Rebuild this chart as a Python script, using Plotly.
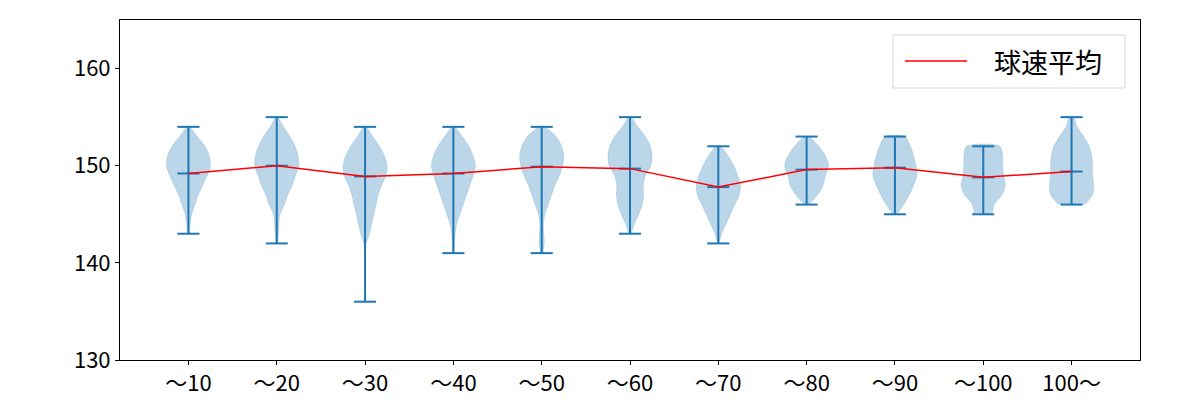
import plotly.graph_objects as go

categories = ["～10", "～20", "～30", "～40", "～50", "～60", "～70", "～80", "～90", "～100", "100～"]
mins = [143, 142, 136, 141, 141, 143, 142, 146, 145, 145, 146]
maxs = [154, 155, 154, 154, 154, 155, 152, 153, 153, 152, 155]
means = [149.2, 150.0, 148.9, 149.2, 149.9, 149.7, 147.8, 149.6, 149.8, 148.8, 149.4]
legend_label = "球速平均"

# relative density (0..1) from min to max, 1 km/h steps
dens_10 = [0.05, 0.08, 0.15, 0.3, 0.45, 0.65, 0.85, 1.0, 0.95, 0.75, 0.4, 0.05]
dens_20 = [0.03, 0.08, 0.1, 0.15, 0.35, 0.5, 0.7, 0.85, 1.0, 0.97, 0.83, 0.6, 0.3, 0.05]
dens_30 = [0.0, 0.0, 0.0, 0.0, 0.0, 0.01, 0.05, 0.2, 0.3, 0.4, 0.5, 0.6, 0.75, 0.95, 1.0, 0.88, 0.65, 0.35, 0.05]
dens_40 = [0.03, 0.05, 0.08, 0.15, 0.3, 0.45, 0.6, 0.75, 0.9, 1.0, 0.9, 0.7, 0.4, 0.05]
dens_50 = [0.05, 0.12, 0.1, 0.08, 0.15, 0.3, 0.45, 0.6, 0.8, 0.95, 1.0, 0.9, 0.65, 0.1]
dens_60 = [0.05, 0.2, 0.4, 0.55, 0.62, 0.6, 0.7, 0.95, 1.0, 0.92, 0.7, 0.35, 0.05]
dens_70 = [0.03, 0.15, 0.35, 0.55, 0.75, 0.95, 1.0, 0.88, 0.7, 0.45, 0.1]
dens_80 = [0.1, 0.5, 0.75, 0.85, 1.0, 0.85, 0.55, 0.1]
dens_90 = [0.1, 0.4, 0.65, 0.85, 1.0, 0.95, 0.85, 0.7, 0.45]
dens_100 = [0.4, 0.5, 0.85, 1.0, 0.92, 0.88, 0.88, 0.75]
dens_100p = [0.6, 0.95, 1.0, 0.95, 0.95, 0.92, 0.8, 0.55, 0.25, 0.1]
densities = [dens_10, dens_20, dens_30, dens_40, dens_50, dens_60,
             dens_70, dens_80, dens_90, dens_100, dens_100p]

BLUE = "#1f77b4"
FILL = "rgba(31,119,180,0.3)"
HALF = 0.25
CAP = 0.125
FONT = "Noto Sans CJK JP"

fig = go.Figure()
positions = list(range(1, len(categories) + 1))

for pos, lo, hi, dens in zip(positions, mins, maxs, densities):
    ys = [lo + i for i in range(len(dens))]
    xr = [pos + d * HALF for d in dens]
    xl = [pos - d * HALF for d in dens]
    fig.add_trace(go.Scatter(
        x=xr + xl[::-1], y=ys + ys[::-1], mode="lines",
        fill="toself", fillcolor=FILL,
        line=dict(color="rgba(31,119,180,0.3)", width=0.5, shape="spline", smoothing=0.8),
        hoverinfo="skip", showlegend=False))

# vertical bars and caps
lx, ly = [], []
for pos, lo, hi, m in zip(positions, mins, maxs, means):
    lx += [pos, pos, None, pos - CAP, pos + CAP, None, pos - CAP, pos + CAP, None, pos - CAP, pos + CAP, None]
    ly += [lo, hi, None, lo, lo, None, hi, hi, None, m, m, None]
fig.add_trace(go.Scatter(x=lx, y=ly, mode="lines", line=dict(color=BLUE, width=2),
                         hoverinfo="skip", showlegend=False))

fig.add_trace(go.Scatter(x=positions, y=means, mode="lines", name=legend_label,
                         line=dict(color="red", width=1.5), showlegend=False))

# legend drawn in paper coordinates (matplotlib style)
fig.add_shape(type="rect", xref="paper", yref="paper", x0=0.7578, x1=0.9853, y0=0.80, y1=0.9559,
              line=dict(color="#d6d6d6", width=1), fillcolor="rgba(255,255,255,0.8)", layer="above")
fig.add_shape(type="line", xref="paper", yref="paper", x0=0.7696, x1=0.8304, y0=0.8794, y1=0.8794,
              line=dict(color="red", width=1.5), layer="above")
fig.add_annotation(xref="paper", yref="paper", x=0.8549, y=0.8794, xanchor="left", yanchor="middle",
                   text=legend_label, showarrow=False, font=dict(family=FONT, size=27, color="black"))

fig.update_layout(
    width=1184, height=392,
    margin=dict(l=112, r=52, t=12, b=40),
    plot_bgcolor="white", paper_bgcolor="white",
    font=dict(family=FONT, size=22, color="black"),
    showlegend=False,
)
fig.update_xaxes(range=[0.225, 11.775], tickvals=positions, ticktext=categories, automargin=False,
                 showgrid=False, zeroline=False, showline=True, linecolor="black",
                 linewidth=1, mirror=True, ticks="outside", ticklen=4, tickcolor="black")
fig.update_yaxes(range=[130, 165], tickvals=[130, 140, 150, 160], automargin=False,
                 showgrid=False, zeroline=False, showline=True, linecolor="black",
                 linewidth=1, mirror=True, ticks="outside", ticklen=4, tickcolor="black")

fig.write_html("out.html")
